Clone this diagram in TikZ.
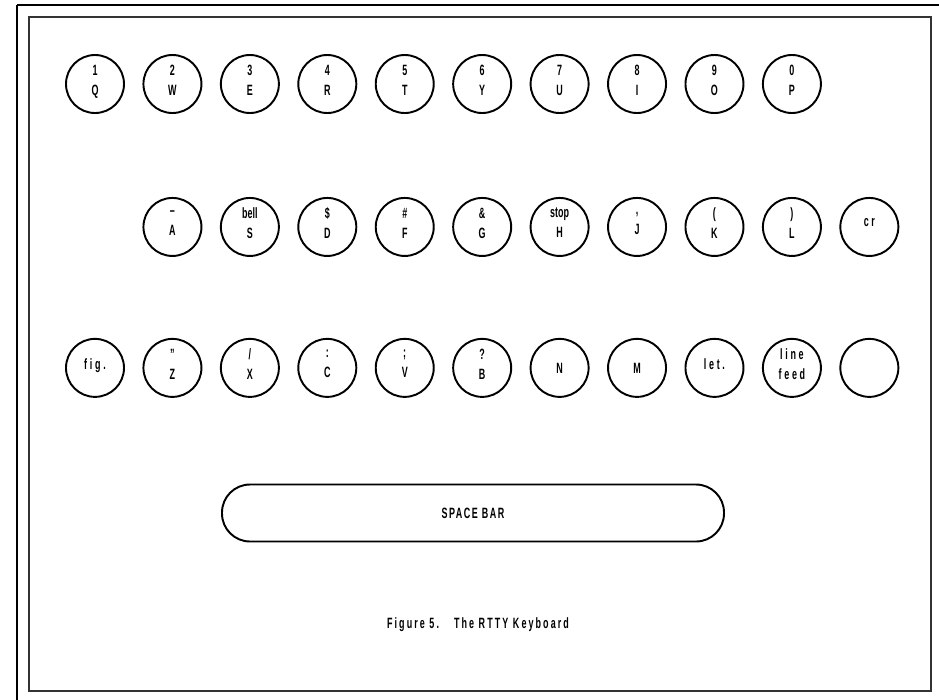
\documentclass[tikz,border=0pt]{standalone}
\usepackage{fontspec}
\setmainfont{Liberation Sans}[FakeStretch=0.6]
\usepackage{tikz}
\usetikzlibrary{positioning}

\newcommand{\kbfont}{\fontsize{8.5}{11.4}\selectfont\bfseries}
\newcommand{\wide}{\addfontfeature{LetterSpace=18}}
\newcommand{\capfont}{\fontsize{8.5}{10}\selectfont\bfseries\addfontfeature{LetterSpace=14}}

\begin{document}
\begin{tikzpicture}[x=0.2mm, y=-0.2mm,
  kbtn/.style={draw, line width=1.1pt, circle, minimum size=1.16cm, inner sep=0pt,
               align=center, text depth=1.6mm, font=\kbfont},
  barkey/.style={draw, line width=1.1pt, rounded corners=0.56cm, minimum width=10.04cm,
                 minimum height=1.14cm, font=\kbfont\addfontfeature{LetterSpace=10}},
  node distance=1.66cm and 0.35cm
]
\useasboundingbox (0,0) rectangle (939,699);
% Frames
\draw[line width=1.7pt] (17,5) -- (945,5);
\draw[line width=1.7pt] (17,5) -- (17,705);
\draw[line width=0.8pt, black!80] (29,17) rectangle (931,691);
% Top row
\node[kbtn] (q) at (95,84) {1\\Q};
\node[kbtn, right=of q] (w) {2\\W};
\node[kbtn, right=of w] (e) {3\\E};
\node[kbtn, right=of e] (r) {4\\R};
\node[kbtn, right=of r] (t) {5\\T};
\node[kbtn, right=of t] (y) {6\\Y};
\node[kbtn, right=of y] (u) {7\\U};
\node[kbtn, right=of u] (i) {8\\I};
\node[kbtn, right=of i] (o) {9\\O};
\node[kbtn, right=of o] (p) {0\\P};
% Middle row
\node[kbtn, below=of w] (a) {--\\A};
\node[kbtn, right=of a] (s) {bell\\S};
\node[kbtn, right=of s] (d) {\$\\D};
\node[kbtn, right=of d] (f) {\#\\F};
\node[kbtn, right=of f] (g) {\&\\G};
\node[kbtn, right=of g] (h) {stop\\H};
\node[kbtn, right=of h] (j) {,\\J};
\node[kbtn, right=of j] (k) {(\\K};
\node[kbtn, right=of k] (l) {)\\L};
\node[kbtn, right=of l] (cr) {\wide cr};
% Bottom row
\node[kbtn, below=1.62cm of a] (z) {"\\Z};
\node[kbtn, left=of z] (fig) {\wide fig.};
\node[kbtn, right=of z] (x) {/\\X};
\node[kbtn, right=of x] (c) {:\\C};
\node[kbtn, right=of c] (v) {;\\V};
\node[kbtn, right=of v] (b) {?\\B};
\node[kbtn, right=of b] (n) {~\\N};
\node[kbtn, right=of n] (m) {~\\M};
\node[kbtn, right=of m] (let) {\wide let.};
\node[kbtn, right=of let] (lf) {\wide line\\\wide feed};
\node[kbtn, right=of lf] (blank) {};
% Space bar and caption
\node[barkey] (space) at (473,513) {SPACE BAR};
\node[font=\capfont] (cap) at (478,625) {Figure 5.\quad The RTTY Keyboard};
\end{tikzpicture}
\end{document}
